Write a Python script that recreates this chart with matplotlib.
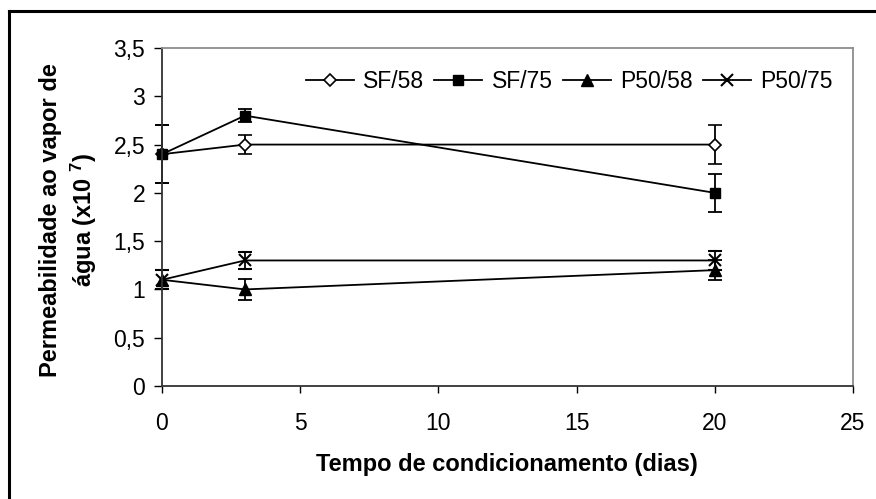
import matplotlib
matplotlib.use("Agg")
import matplotlib.pyplot as plt
from matplotlib.lines import Line2D

plt.rcParams['font.family'] = ['Liberation Sans', 'DejaVu Sans']
plt.rcParams['mathtext.fontset'] = 'custom'
plt.rcParams['mathtext.rm'] = 'Liberation Sans:bold'
plt.rcParams['mathtext.bf'] = 'Liberation Sans:bold'
plt.rcParams['mathtext.default'] = 'bf'

# Conditioning time (days)
dias = [0, 3, 20]

# Water vapour permeability (x10^7) and standard deviations
sf58 = [2.4, 2.5, 2.5]
sf58_err = [0.3, 0.1, 0.2]
sf75 = [2.4, 2.8, 2.0]
sf75_err = [0.3, 0.07, 0.2]
p50_58 = [1.1, 1.0, 1.2]
p50_58_err = [0.1, 0.11, 0.1]
p50_75 = [1.1, 1.3, 1.3]
p50_75_err = [0.1, 0.09, 0.1]

labels = ["SF/58", "SF/75", "P50/58", "P50/75"]
x_ticks = [0, 5, 10, 15, 20, 25]
y_ticks = [0, 0.5, 1, 1.5, 2, 2.5, 3, 3.5]

FS = 16.5
W, H = 876, 499
fig = plt.figure(figsize=(W / 100, H / 100), dpi=100)
ax = fig.add_axes([162 / W, 1 - 386 / H, (853 - 162) / W, (386 - 48) / H])

styles = [
    dict(marker="D", markersize=6.5, markerfacecolor="white", markeredgewidth=1.2),
    dict(marker="s", markersize=7.5, markerfacecolor="black"),
    dict(marker="^", markersize=8.5, markerfacecolor="black"),
    dict(marker="x", markersize=9, markeredgewidth=1.5),
]
series = [(sf58, sf58_err), (sf75, sf75_err), (p50_58, p50_58_err), (p50_75, p50_75_err)]

handles = []
for (vals, errs), st, lab in zip(series, styles, labels):
    cont = ax.errorbar(dias, vals, yerr=errs, color="black", linewidth=1.3,
                       elinewidth=1.3, capsize=5, capthick=1.3,
                       markeredgecolor="black", **st)
    for art in cont.get_children():
        art.set_clip_on(False)
    handles.append(Line2D([], [], color="black", linewidth=1.3,
                          markeredgecolor="black", **st))

ax.set_xlim(0, 25)
ax.set_ylim(0, 3.5)
ax.set_xticks(x_ticks)
ax.set_yticks(y_ticks)
ax.set_xticklabels([str(v) for v in x_ticks])
ax.set_yticklabels([f"{v:g}".replace(".", ",") for v in y_ticks])
ax.tick_params(axis="x", direction="out", length=5, width=1, labelsize=FS,
               pad=14, colors="black")
ax.tick_params(axis="y", direction="out", length=6, width=1, labelsize=FS,
               pad=6, colors="black")

for side in ("left", "bottom"):
    ax.spines[side].set_color("#333333")
    ax.spines[side].set_linewidth(1.3)
for side in ("top", "right"):
    ax.spines[side].set_color("#8c8c8c")
    ax.spines[side].set_linewidth(1.3)

ax.legend(handles, labels, ncol=4, frameon=False, fontsize=FS,
          loc="center right", bbox_to_anchor=((833 - 162) / 691, (386 - 82) / 338),
          handlelength=2.1, handletextpad=0.4, columnspacing=0.45,
          borderaxespad=0, borderpad=0)

fig.text(69 / W, 1 - 220 / H,
         "Permeabilidade ao vapor de\n" + r"água (x10 $^{7}$)",
         rotation=90, ha="center", va="center", multialignment="center",
         fontsize=17, fontweight="bold", linespacing=1.3)
fig.text(507 / W, 1 - 465 / H, "Tempo de condicionamento (dias)",
         ha="center", va="center", fontsize=FS + 0.5, fontweight="bold")

# Outer chart frame
fig.add_artist(Line2D([9 / W, 9 / W], [-0.1, 1 - 11 / H], color="black",
                      linewidth=2.2, transform=fig.transFigure))
fig.add_artist(Line2D([9 / W, 1.1], [1 - 11 / H, 1 - 11 / H], color="black",
                      linewidth=2.2, transform=fig.transFigure))

fig.savefig("out.png", dpi=100)
